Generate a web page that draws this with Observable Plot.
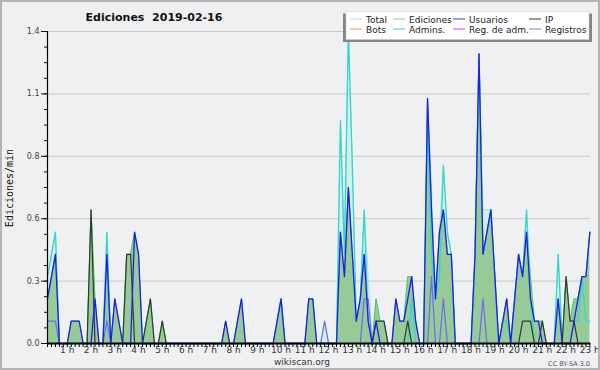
<!DOCTYPE html>
<html><head><meta charset="utf-8">
<script src="https://cdn.jsdelivr.net/npm/d3@7"></script>
<script src="https://cdn.jsdelivr.net/npm/@observablehq/plot@0.6"></script>
<style>
html,body{margin:0;padding:0;background:#eff0f2;}
#chart svg{display:block;}
</style></head><body><div id="chart"></div>
<script>
// Edits per minute, 10-minute bins starting at 00:00 (one row per hour)
const total = [
 .3,.4,.5,0,0,0,  .1,.1,.1,0,0,.6,  .2,0,0,.5,0,.2,  .1,0,.4,.4,.5,.4,
 0,.1,.2,0,0,.1,  0,0,0,0,0,0,  0,0,0,0,0,0,  0,0,0,.1,0,0,
 .1,.2,0,0,0,0,  0,0,0,0,.1,.2,  0,0,0,0,0,0,  .2,.2,0,0,.1,0,
 0,0,1.0,.4,1.4,.8,  .1,.2,.6,.3,0,.2,  .1,.1,0,0,.2,.1,  .1,.3,.3,.1,0,0,
 1.1,.7,.2,.5,.8,.5,  .4,0,0,0,0,0,  .4,1.3,.6,.6,.6,.3,  0,.1,.2,0,.2,.4,
 .3,.6,.3,.1,.1,.1,  0,0,0,.4,0,.3,  .1,.2,.2,.3,.3,.5];
const ediciones = [
 .2,.3,.4,0,0,0,  .1,.1,.1,0,0,.6,  .2,0,0,.4,0,.2,  .1,0,.4,.4,.5,.4,
 0,.1,.2,0,0,.1,  0,0,0,0,0,0,  0,0,0,0,0,0,  0,0,0,.1,0,0,
 .1,.2,0,0,0,0,  0,0,0,0,.1,.2,  0,0,0,0,0,0,  .2,.2,0,0,0,0,
 0,0,.5,.3,.7,.4,  .1,.2,.4,.1,0,.2,  .1,.1,0,0,.2,.1,  .1,.3,.3,.1,0,0,
 1.1,.6,.2,.5,.6,.4,  .4,0,0,0,0,0,  .4,1.3,.4,.5,.6,.3,  0,.1,.2,0,.2,.4,
 .3,.5,.3,.1,.1,.1,  0,0,0,.2,0,.3,  .1,.2,.2,.3,.3,.5];
const usuarios = [
 .2,.3,.4,0,0,0,  .1,.1,.1,0,0,0,  .2,0,0,.4,0,.2,  .1,0,0,0,.5,.4,
 0,0,0,0,0,0,  0,0,0,0,0,0,  0,0,0,0,0,0,  0,0,0,.1,0,0,
 .1,.2,0,0,0,0,  0,0,0,0,.1,.2,  0,0,0,0,0,0,  .2,.2,0,0,0,0,
 0,0,.5,.3,.7,.4,  .1,.2,.4,.1,0,.1,  0,0,0,0,.2,.1,  .1,.2,.3,.1,0,0,
 1.1,.6,.2,.5,.6,.4,  .4,0,0,0,0,0,  .4,1.3,.4,.5,.6,.3,  0,.1,.2,0,.2,.4,
 .3,.5,.2,.1,.1,0,  0,0,0,.2,0,0,  0,.1,.2,.3,.3,.5];
const ip = [
 0,0,0,0,0,0,  0,0,0,0,0,.6,  0,0,0,0,0,0,  0,0,.4,.4,0,0,
 0,.1,.2,0,0,.1,  0,0,0,0,0,0,  0,0,0,0,0,0,  0,0,0,0,0,0,
 0,0,0,0,0,0,  0,0,0,0,0,0,  0,0,0,0,0,0,  0,0,0,0,0,0,
 0,0,0,0,0,0,  0,0,0,0,0,.1,  .1,.1,0,0,0,0,  0,.1,0,0,0,0,
 0,0,0,0,0,0,  0,0,0,0,0,0,  0,0,0,0,0,0,  0,0,0,0,0,0,
 .1,.1,.1,0,0,.1,  0,0,0,0,0,.3,  .1,.1,0,0,0,0];
const admins = [
 .3,.4,.5,0,0,0,  0,0,0,0,0,0,  0,0,0,.5,0,0,  0,0,0,0,0,0,
 0,0,0,0,0,0,  0,0,0,0,0,0,  0,0,0,0,0,0,  0,0,0,0,0,0,
 0,0,0,0,0,0,  0,0,0,0,.1,.2,  0,0,0,0,0,0,  0,0,0,0,0,0,
 0,0,1.0,.4,1.4,.8,  .1,.2,.6,.1,0,0,  0,0,0,0,0,0,  0,0,.2,0,0,0,
 1.0,.4,.2,.3,.8,.5,  .4,0,0,0,0,0,  .4,1.3,.4,.5,.6,.3,  0,.1,.1,0,.2,.4,
 .3,.6,.2,0,0,0,  0,0,0,.4,0,0,  0,.1,.1,.3,.1,.1];
const registros = [
 .1,.1,.1,0,0,0,  0,0,0,0,0,0,  0,0,0,.1,0,0,  0,0,0,0,0,0,
 0,0,0,0,0,0,  0,0,0,0,0,0,  0,0,0,0,0,0,  0,0,0,0,0,0,
 0,0,0,0,0,0,  0,0,0,0,0,0,  0,0,0,0,0,0,  0,0,0,0,.1,0,
 0,0,0,0,0,0,  0,0,.2,.2,0,0,  0,0,0,0,0,0,  0,0,0,0,0,0,
 0,.3,0,0,.2,0,  0,0,0,0,0,0,  0,0,.2,0,0,0,  0,0,0,0,0,0,
 0,0,0,0,0,0,  0,0,0,0,0,0,  0,0,0,0,0,0];

const binsPerHour = 6;
const hourTicks = [1,2,3,4,5,6,7,8,9,10,11,12,13,14,15,16,17,18,19,20,21,22,23];
const yTicks = [0, 0.28, 0.56, 0.84, 1.12, 1.4];
const yTickLabels = ["0.0","0.3","0.6","0.8","1.1","1.4"];
const legendLabels = ["Total","Ediciones","Usuarios","IP","Bots","Admins.","Reg. de adm.","Registros"];
const legendColors = ["#a8e4e0","#88d488","#3c3ce0","#333333","#f0a030","#30d0e0","#d040e0","#7878f0"];
const titleText = "Ediciones  2019-02-16";
const yTitle = "Ediciones/min";

const data = total.map((t, i) => ({
  h: i / binsPerHour, total: t, edic: ediciones[i], usu: usuarios[i],
  ip: ip[i], adm: admins[i], reg: registros[i]
}));

const minorX = d3.range(0, 22.87, 1 / binsPerHour);
const minorY = d3.range(0, 1.401, 0.07);

const svg = Plot.plot({
  width: 600, height: 370,
  marginLeft: 47, marginRight: 10, marginTop: 31, marginBottom: 27,
  style: {background: "#eff0f2", fontFamily: "DejaVu Sans", color: "#222"},
  x: {domain: [0, 22.86], axis: null},
  y: {domain: [0, 1.4], axis: null},
  marks: [
    Plot.ruleY(yTicks.slice(1), {stroke: "#c9c9cc", strokeWidth: 1}),
    Plot.areaY(data, {x: "h", y: "total", fill: "#d3efea"}),
    Plot.areaY(data, {x: "h", y: "edic", fill: "#97ca97"}),
    Plot.lineY(data, {x: "h", y: "total", stroke: "#a8e4e0", strokeWidth: 1}),
    Plot.lineY(data, {x: "h", y: "edic", stroke: "#55c055", strokeWidth: 1}),
    Plot.lineY(data, {x: "h", y: "adm", stroke: "#33d6cc", strokeWidth: 1.3}),
    Plot.lineY(data, {x: "h", y: "reg", stroke: "#6a6af0", strokeWidth: 1.2}),
    Plot.lineY(data, {x: "h", y: "ip", stroke: "#2d3a2d", strokeWidth: 1.2}),
    Plot.lineY(data, {x: "h", y: "usu", stroke: "#1e1ee8", strokeWidth: 1.3}),
    Plot.axisY({ticks: minorY, tickSize: 3, tickFormat: () => "", stroke: "#111", label: null}),
    Plot.axisY({ticks: yTicks, tickSize: 6, tickPadding: 2, fontSize: 8, fill: "#444", label: null,
      stroke: "#111", tickFormat: (d) => yTickLabels[yTicks.indexOf(d)]}),
    Plot.ruleX([0], {stroke: "#000", strokeWidth: 1.2}),
    Plot.axisX({ticks: minorX, tickSize: 4, tickFormat: () => "", stroke: "#000", label: null}),
    Plot.axisX({ticks: hourTicks, tickSize: 0, tickPadding: 3, fontSize: 9, fill: "#333", label: null,
      dx: -4, tickFormat: d => `${d} h`}),
    Plot.ruleY([0], {stroke: "#000", strokeWidth: 2})
  ]
});
svg.style.outline = "2px solid #b4b4b6";
svg.style.outlineOffset = "-2px";

const s = d3.select(svg);
s.append("text").attr("x", 154).attr("y", 21).attr("text-anchor", "middle")
  .attr("font-family", "DejaVu Sans").attr("font-weight", "bold").attr("font-size", 11)
  .attr("fill", "#111").style("white-space", "pre").text(titleText);
s.append("text").attr("transform", "translate(13,188) rotate(-90)").attr("text-anchor", "middle")
  .attr("font-family", "DejaVu Sans Mono").attr("font-size", 10).attr("fill", "#111").text(yTitle);
s.append("text").attr("x", 302).attr("y", 365).attr("text-anchor", "middle")
  .attr("font-family", "DejaVu Sans").attr("font-size", 9).attr("fill", "#333").text("wikiscan.org");
s.append("text").attr("x", 590).attr("y", 366).attr("text-anchor", "end")
  .attr("font-family", "DejaVu Sans").attr("font-size", 6.5).attr("fill", "#555").text("CC BY-SA 3.0");

// legend
const lg = s.append("g").attr("text-anchor", "start");
lg.append("rect").attr("x", 343).attr("y", 13.5).attr("width", 249).attr("height", 28.5).attr("fill", "#858585");
lg.append("rect").attr("x", 346).attr("y", 11.5).attr("width", 243).attr("height", 28).attr("fill", "#fff").attr("stroke", "#d0d0d0").attr("stroke-width", 0.5);
const colX = [350, 393, 453, 529];
legendLabels.forEach((lab, k) => {
  const c = k % 4, r = Math.floor(k / 4);
  const y = 19 + r * 10;
  lg.append("line").attr("x1", colX[c]).attr("x2", colX[c] + 12).attr("y1", y).attr("y2", y)
    .attr("stroke", legendColors[k]).attr("stroke-width", 1);
  lg.append("text").attr("x", colX[c] + 16).attr("y", y + 3.5).attr("text-anchor", "start")
    .attr("font-family", "DejaVu Sans").attr("font-size", 9).attr("fill", "#222").text(lab);
});

document.getElementById("chart").appendChild(svg);
</script></body></html>
